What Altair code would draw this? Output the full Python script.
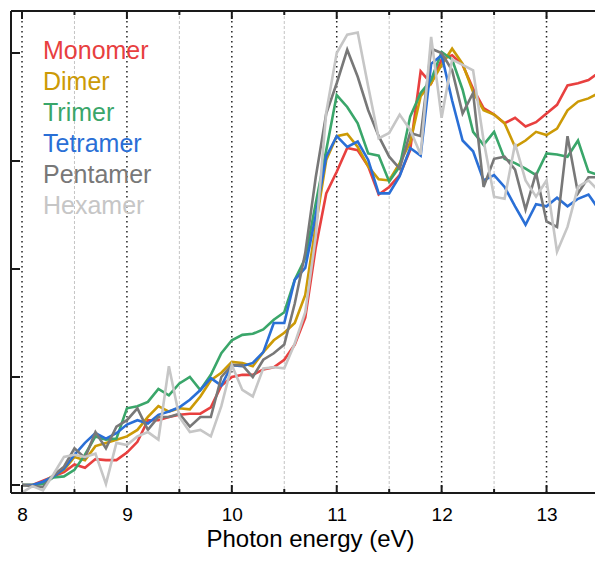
import altair as alt
import pandas as pd

energy = [8.0, 8.1, 8.2, 8.3, 8.4, 8.5, 8.6, 8.7, 8.8, 8.9,
          9.0, 9.1, 9.2, 9.3, 9.4, 9.5, 9.6, 9.7, 9.8, 9.9,
          10.0, 10.1, 10.2, 10.3, 10.4, 10.5, 10.6, 10.7, 10.8, 10.9,
          11.0, 11.1, 11.2, 11.3, 11.4, 11.5, 11.6, 11.7, 11.8, 11.9,
          12.0, 12.1, 12.2, 12.3, 12.4, 12.5, 12.6, 12.7, 12.8, 12.9,
          13.0, 13.1, 13.2, 13.3, 13.4, 13.5, 13.6]

monomer = [0.00, 0.00, 0.04, 0.08, 0.12, 0.19, 0.16, 0.24, 0.23, 0.23,
           0.30, 0.40, 0.60, 0.60, 0.63, 0.65, 0.66, 0.66, 0.72, 0.92,
           1.00, 1.02, 1.02, 1.07, 1.09, 1.16, 1.30, 1.55, 2.20, 2.70,
           2.90, 3.12, 3.10, 2.95, 2.69, 2.76, 2.87, 3.10, 3.83, 3.72,
           3.94, 3.98, 3.89, 3.67, 3.49, 3.43, 3.35, 3.40, 3.32, 3.36,
           3.44, 3.52, 3.70, 3.72, 3.75, 3.82, 3.62]
dimer = [0.00, 0.00, 0.02, 0.09, 0.14, 0.26, 0.23, 0.36, 0.39, 0.42,
         0.45, 0.51, 0.63, 0.73, 0.68, 0.71, 0.70, 0.82, 0.97, 1.04,
         1.14, 1.13, 1.10, 1.23, 1.34, 1.41, 1.50, 1.76, 2.40, 3.01,
         3.23, 3.25, 3.13, 2.95, 2.83, 2.82, 2.98, 3.17, 3.60, 3.72,
         3.89, 4.04, 3.90, 3.64, 3.47, 3.43, 3.35, 3.13, 3.19, 3.27,
         3.24, 3.30, 3.47, 3.55, 3.58, 3.63, 3.66]
trimer = [0.00, 0.00, 0.01, 0.07, 0.08, 0.14, 0.28, 0.45, 0.42, 0.43,
          0.71, 0.73, 0.77, 0.89, 0.83, 0.94, 1.00, 0.88, 1.02, 1.22,
          1.34, 1.39, 1.40, 1.44, 1.53, 1.60, 1.90, 2.10, 2.61, 3.10,
          3.61, 3.50, 3.35, 3.07, 3.05, 2.81, 2.95, 3.41, 3.63, 3.75,
          4.01, 3.94, 3.66, 3.27, 3.15, 3.27, 3.02, 2.98, 2.93, 2.87,
          3.07, 3.06, 3.04, 3.19, 2.90, 2.87, 2.85]
tetramer = [0.00, 0.00, 0.03, 0.08, 0.15, 0.28, 0.39, 0.48, 0.43, 0.48,
            0.56, 0.60, 0.57, 0.65, 0.68, 0.72, 0.79, 0.88, 0.99, 0.92,
            1.11, 1.10, 1.13, 1.23, 1.50, 1.50, 1.90, 2.01, 2.50, 3.04,
            3.23, 3.13, 3.18, 3.01, 2.70, 2.70, 2.86, 3.12, 3.05, 3.90,
            3.98, 3.56, 3.19, 3.09, 2.82, 2.87, 2.76, 2.58, 2.41, 2.60,
            2.58, 2.66, 2.58, 2.65, 2.69, 2.55, 2.45]
pentamer = [0.00, -0.01, -0.02, 0.09, 0.17, 0.34, 0.25, 0.49, 0.34, 0.54,
            0.60, 0.71, 0.51, 0.63, 0.63, 0.66, 0.54, 0.63, 0.63, 1.00,
            1.11, 1.11, 1.00, 1.16, 1.22, 1.30, 1.68, 2.15, 2.85, 3.44,
            3.72, 4.03, 3.78, 3.47, 3.23, 3.04, 2.93, 3.26, 3.23, 4.04,
            4.00, 3.84, 3.44, 3.63, 2.76, 3.02, 3.04, 2.92, 2.55, 2.89,
            2.44, 2.39, 3.23, 2.70, 2.85, 2.85, 2.93]
hexamer = [-0.07, -0.01, -0.05, 0.10, 0.26, 0.28, 0.26, 0.29, 0.01, 0.39,
           0.37, 0.45, 0.49, 0.42, 1.10, 0.63, 0.49, 0.51, 0.45, 0.73,
           1.11, 0.88, 0.82, 1.08, 1.09, 1.08, 1.31, 1.60, 2.30, 3.45,
           4.00, 4.17, 4.19, 3.69, 3.21, 3.26, 3.43, 3.29, 3.06, 4.15,
           3.40, 3.94, 3.89, 3.84, 3.19, 2.67, 2.65, 3.16, 2.82, 2.67,
           2.82, 2.16, 2.39, 2.76, 2.82, 2.72, 2.80]

names = ["Monomer", "Dimer", "Trimer", "Tetramer", "Pentamer", "Hexamer"]
colors = ["#e8403f", "#cc9a06", "#3aa66a", "#2a6fd6", "#787878", "#c6c6c6"]
series = [monomer, dimer, trimer, tetramer, pentamer, hexamer]

major_ticks = [8, 9, 10, 11, 12, 13]
minor_ticks = [8.5, 9.5, 10.5, 11.5, 12.5, 13.5]
y_ticks = [0, 1, 2, 3, 4]

W, H = 584, 482
X_DOMAIN = [7.895, 13.462]
Y_DOMAIN = [-0.074, 4.389]

rows = []
for name, vals in zip(names, series):
    for e, v in zip(energy, vals):
        rows.append({"energy": e, "value": v, "series": name})
df = pd.DataFrame(rows)

xs = alt.Scale(domain=X_DOMAIN, nice=False, zero=False)
ys = alt.Scale(domain=Y_DOMAIN, nice=False, zero=False)
cs = alt.Scale(domain=names, range=colors)

major_df = pd.DataFrame({"e": major_ticks})
minor_df = pd.DataFrame({"e": minor_ticks})
yt_df = pd.DataFrame({"v": y_ticks})
legend_df = pd.DataFrame({"series": names})

xaxis = alt.Axis(values=major_ticks, format="d", title="Photon energy (eV)",
                 domain=False, ticks=False, tickSize=0, grid=False,
                 labelFontSize=19, titleFontSize=24, labelPadding=12,
                 titleX=299, titleY=53, titleAlign="center",
                 titleBaseline="alphabetic",
                 labelColor="black", titleColor="black",
                 labelFont="Liberation Sans", titleFont="Liberation Sans",
                 titleFontWeight="normal")

minor_grid = alt.Chart(minor_df).mark_rule(
    color="#c4c4c4", strokeWidth=1, strokeDash=[3, 2], clip=True
).encode(x=alt.X("e:Q", scale=xs, axis=xaxis))

major_grid = alt.Chart(major_df).mark_rule(
    color="#222222", strokeWidth=1.5, strokeDash=[1.5, 3.5]
).encode(x=alt.X("e:Q", scale=xs, axis=xaxis))

line_layers = []
for name in names:
    line_layers.append(
        alt.Chart(df).transform_filter(alt.datum.series == name)
        .mark_line(strokeWidth=2.6, clip=True)
        .encode(
            x=alt.X("energy:Q", scale=xs, axis=xaxis),
            y=alt.Y("value:Q", scale=ys, axis=None),
            color=alt.Color("series:N", scale=cs, legend=None),
        )
    )

frame_col = "#1a1a1a"
left_frame = alt.Chart(major_df).mark_rule(color=frame_col, strokeWidth=2).encode(
    x=alt.value(0), y=alt.value(0), y2=alt.value(H))
top_frame = alt.Chart(major_df).mark_rule(color=frame_col, strokeWidth=2).encode(
    x=alt.value(0), x2=alt.value(W), y=alt.value(0))
bottom_frame = alt.Chart(major_df).mark_rule(color=frame_col, strokeWidth=2).encode(
    x=alt.value(0), x2=alt.value(W), y=alt.value(H))

bot_major = alt.Chart(major_df).mark_rule(color=frame_col, strokeWidth=2).encode(
    x=alt.X("e:Q", scale=xs, axis=xaxis), y=alt.value(H), y2=alt.value(H - 8))
bot_minor = alt.Chart(minor_df).mark_rule(color=frame_col, strokeWidth=2, clip=True).encode(
    x=alt.X("e:Q", scale=xs, axis=xaxis), y=alt.value(H), y2=alt.value(H - 4))
top_major = alt.Chart(major_df).mark_rule(color=frame_col, strokeWidth=2).encode(
    x=alt.X("e:Q", scale=xs, axis=xaxis), y=alt.value(0), y2=alt.value(8))
top_minor = alt.Chart(minor_df).mark_rule(color=frame_col, strokeWidth=2, clip=True).encode(
    x=alt.X("e:Q", scale=xs, axis=xaxis), y=alt.value(0), y2=alt.value(4))
left_ticks = alt.Chart(yt_df).mark_rule(color=frame_col, strokeWidth=2).encode(
    y=alt.Y("v:Q", scale=ys, axis=None), x=alt.value(0), x2=alt.value(9))

legend_text = alt.Chart(legend_df).mark_text(
    align="left", baseline="middle", fontSize=25, font="Liberation Sans"
).encode(
    x=alt.value(32),
    y=alt.Y("series:N", sort=names,
            scale=alt.Scale(type="point", range=[40, 195], padding=0), axis=None),
    text="series:N",
    color=alt.Color("series:N", scale=cs, legend=None),
)

chart = alt.layer(
    minor_grid, major_grid, *line_layers,
    left_frame, top_frame, bottom_frame,
    bot_major, bot_minor, top_major, top_minor, left_ticks,
    legend_text,
).resolve_scale(y="independent").properties(
    width=W, height=H,
    autosize=alt.AutoSizeParams(type="none"),
    padding={"left": 3, "top": 3, "right": 0, "bottom": 62},
).configure_view(strokeWidth=0).configure(background="white")

chart.save("out.html", embed_options={"renderer": "svg", "actions": False})
